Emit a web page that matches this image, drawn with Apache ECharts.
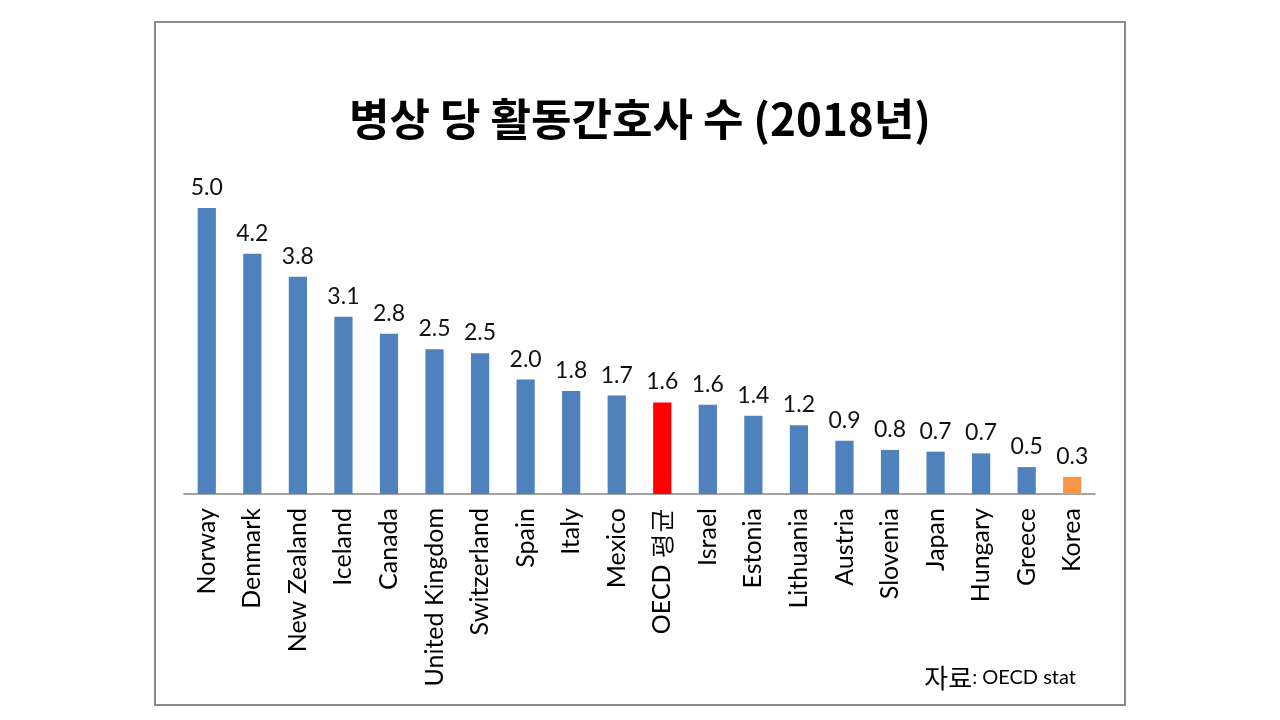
<!DOCTYPE html>
<html>
<head>
<meta charset="utf-8">
<script src="https://cdn.jsdelivr.net/npm/echarts@6/dist/echarts.min.js"></script>
<style>
  html, body { margin: 0; padding: 0; background: #fff; }
  #chart { width: 1280px; height: 720px; }
</style>
</head>
<body>
<div id="chart"></div>
<script>
// 병상 당 활동간호사 수 (2018년), 자료: OECD stat
const countries = ['Norway', 'Denmark', 'New Zealand', 'Iceland', 'Canada', 'United Kingdom',
  'Switzerland', 'Spain', 'Italy', 'Mexico', 'OECD 평균', 'Israel', 'Estonia', 'Lithuania',
  'Austria', 'Slovenia', 'Japan', 'Hungary', 'Greece', 'Korea'];
const nursesPerBed = [5.0, 4.2, 3.8, 3.1, 2.8, 2.53, 2.46, 2.0, 1.8, 1.72, 1.6, 1.56, 1.37, 1.2,
  0.93, 0.77, 0.74, 0.71, 0.47, 0.3];

const colorDefault = '#4F81BD';
const colorOecd = '#FF0000';
const colorKorea = '#F79646';

let chart = echarts.init(document.getElementById('chart'));

const barData = nursesPerBed.map(function (v, i) {
  let c = colorDefault;
  if (countries[i] === 'OECD 평균') c = colorOecd;
  if (countries[i] === 'Korea') c = colorKorea;
  return { value: v, itemStyle: { color: c } };
});

chart.setOption({
  backgroundColor: '#fff',
  animation: false,
  title: {
    text: '병상 당 활동간호사 수 (2018년)',
    left: 'center',
    top: 92,
    textStyle: {
      fontFamily: 'Noto Sans CJK KR',
      fontWeight: 'bold',
      fontSize: 44,
      color: '#000'
    }
  },
  graphic: [
    {
      type: 'rect',
      shape: { x: 155, y: 22, width: 970, height: 683 },
      style: { fill: 'none', stroke: '#8a8a8a', lineWidth: 2 },
      silent: true
    },
    {
      type: 'text',
      right: 204,
      top: 665,
      style: {
        text: '{a|자료}{b|: OECD stat}',
        rich: {
          a: { fontFamily: 'Noto Sans CJK KR', fontSize: 26, fill: '#000' },
          b: { fontFamily: 'Lato', fontSize: 20, fill: '#000' }
        }
      }
    }
  ],
  grid: {
    left: 184,
    right: 185,
    top: 208,
    bottom: 226
  },
  xAxis: {
    type: 'category',
    data: countries,
    axisLine: { lineStyle: { color: '#868686', width: 1.5 } },
    axisTick: { show: false },
    axisLabel: {
      interval: 0,
      rotate: 90,
      margin: 14,
      fontFamily: 'Lato',
      fontSize: 25,
      color: '#000'
    }
  },
  yAxis: {
    type: 'value',
    min: 0,
    max: 5,
    show: false,
    splitLine: { show: false }
  },
  series: [{
    type: 'bar',
    data: barData,
    barWidth: '40%',
    label: {
      show: true,
      position: 'top',
      distance: 9,
      fontFamily: 'Lato',
      fontSize: 23,
      color: '#111',
      formatter: function (p) { return p.value.toFixed(1); }
    }
  }]
});
</script>
</body>
</html>
